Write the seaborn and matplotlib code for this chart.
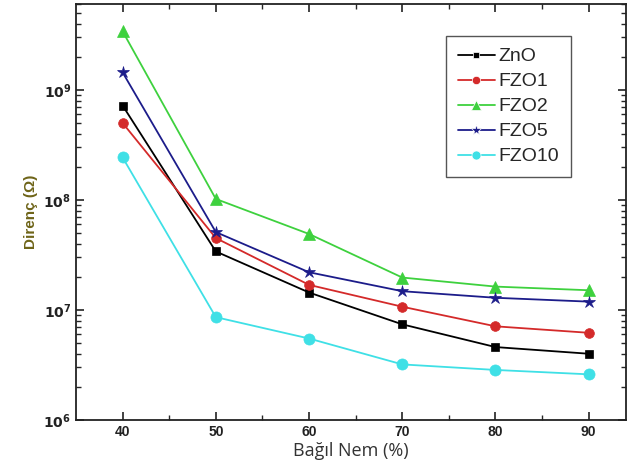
import matplotlib
matplotlib.use("Agg")
import matplotlib.pyplot as plt
import seaborn as sns
import pandas as pd
import numpy as np
from matplotlib.ticker import LogLocator, FixedLocator, NullFormatter, FuncFormatter

humidity = [40, 50, 60, 70, 80, 90]
zno = [7.2e8, 3.4e7, 1.44e7, 7.4e6, 4.6e6, 4.0e6]
fzo1 = [5.0e8, 4.5e7, 1.69e7, 1.07e7, 7.1e6, 6.2e6]
fzo2 = [3.4e9, 1.02e8, 4.9e7, 1.97e7, 1.63e7, 1.51e7]
fzo5 = [1.44e9, 5.1e7, 2.2e7, 1.48e7, 1.29e7, 1.19e7]
fzo10 = [2.43e8, 8.6e6, 5.5e6, 3.2e6, 2.85e6, 2.6e6]
series_names = ["ZnO", "FZO1", "FZO2", "FZO5", "FZO10"]

rows = []
for name, vals in zip(series_names, [zno, fzo1, fzo2, fzo5, fzo10]):
    for h, v in zip(humidity, vals):
        rows.append({"Nem": h, "Direnç": v, "Seri": name})
df = pd.DataFrame(rows)

sns.set_theme(style="white")
plt.rcParams["font.family"] = ["Liberation Sans", "DejaVu Sans"]

palette = {"ZnO": "#000000", "FZO1": "#d42a2a", "FZO2": "#3ed13e",
           "FZO5": "#1c1c8a", "FZO10": "#3fe0e6"}
markers = {"ZnO": "s", "FZO1": "o", "FZO2": "^", "FZO5": "*", "FZO10": "o"}
sizes_m = {"ZnO": 6, "FZO1": 7, "FZO2": 8, "FZO5": 9, "FZO10": 8}
legend_sizes = {"ZnO": 5, "FZO1": 6, "FZO2": 6.5, "FZO5": 8, "FZO10": 6.5}

fig = plt.figure(figsize=(6.27, 4.72), dpi=100)
ax = fig.add_axes([76/627, 52/472, 550/627, 416/472])

sns.lineplot(data=df, x="Nem", y="Direnç", hue="Seri", style="Seri",
             palette=palette, markers=markers, dashes=False,
             hue_order=series_names, style_order=series_names,
             linewidth=1.3, markersize=7, markeredgewidth=0.5, ax=ax)
for line, name in zip(ax.lines, series_names):
    line.set_markersize(sizes_m[name])
    line.set_markeredgecolor(palette[name])

ax.set_yscale("log")
ax.set_xlim(35, 94)
ax.set_ylim(1e6, 10**9.78)

ax.xaxis.set_major_locator(FixedLocator([40, 50, 60, 70, 80, 90]))
ax.xaxis.set_minor_locator(FixedLocator([45, 55, 65, 75, 85]))
ax.yaxis.set_major_locator(LogLocator(base=10, numticks=10))
ax.yaxis.set_minor_locator(LogLocator(base=10, subs=np.arange(2, 10), numticks=20))
ax.yaxis.set_minor_formatter(NullFormatter())
ax.yaxis.set_major_formatter(FuncFormatter(lambda v, p: r"$\mathbf{10^{%d}}$" % int(round(np.log10(v)))))

ax.tick_params(axis="both", which="major", direction="in", length=6, width=1.2,
               top=True, right=True, bottom=True, left=True, labelsize=10, colors="#222222")
ax.tick_params(axis="both", which="minor", direction="in", length=3.5, width=1.0,
               top=True, right=True, bottom=True, left=True)
for lab in ax.get_xticklabels():
    lab.set_fontweight("bold")
for sp in ax.spines.values():
    sp.set_linewidth(1.3)
    sp.set_color("#222222")

ax.set_xlabel("Bağıl Nem (%)", fontsize=13, color="#333333", family=["Open Sans", "DejaVu Sans"], labelpad=2)
ax.set_ylabel("Direnç (Ω)", fontsize=11, color="#6e6418", fontweight="bold", labelpad=4)

leg = ax.legend(loc="upper left", bbox_to_anchor=(0.673, 0.923), fontsize=14,
                frameon=True, fancybox=False, edgecolor="#555555", framealpha=1,
                handlelength=1.9, handletextpad=0.2, borderpad=0.6, labelspacing=0.38,
                borderaxespad=0)
leg.get_frame().set_linewidth(1.0)
for h, name in zip(leg.legend_handles, series_names):
    h.set_markersize(legend_sizes[name])

fig.savefig("out.png", dpi=100)
